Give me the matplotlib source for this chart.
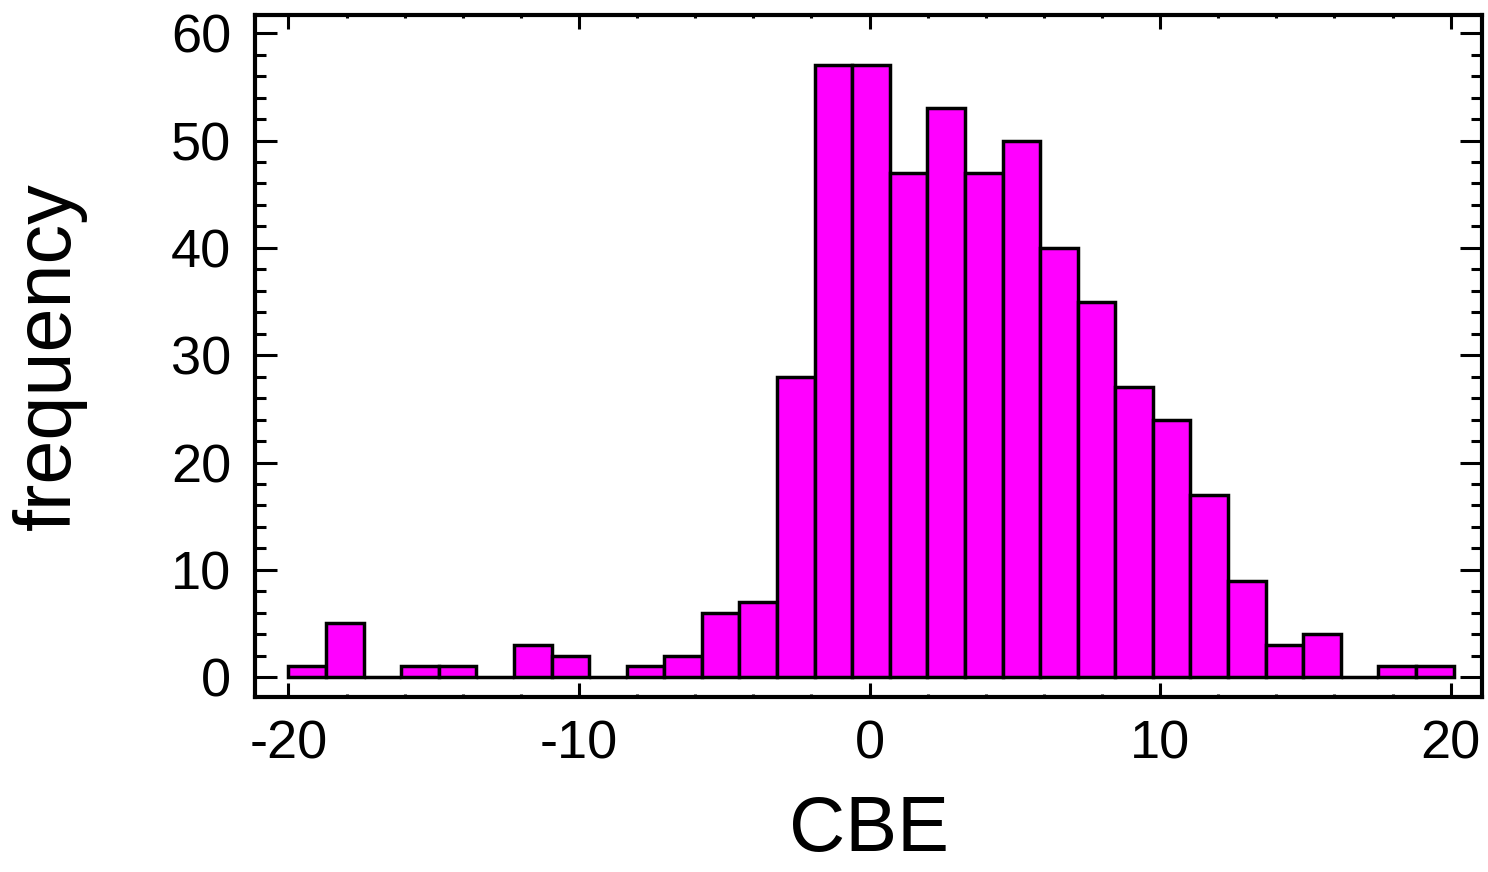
import numpy as np
import matplotlib
matplotlib.use("Agg")
import matplotlib.pyplot as plt
from matplotlib.ticker import MultipleLocator

# ---- data ----
bin_low = -20.0
bin_high = 20.1
n_bins = 31
counts = [1, 5, 0, 1, 1, 0, 3, 2, 0, 1, 2, 6, 7, 28, 57, 57, 47, 53, 47, 50,
          40, 35, 27, 24, 17, 9, 3, 4, 0, 1, 1]
x_ticks = [-20, -10, 0, 10, 20]
y_ticks = [0, 10, 20, 30, 40, 50, 60]
x_label = "CBE"
y_label = "frequency"

plt.rcParams['font.family'] = ['Liberation Sans', 'DejaVu Sans']
plt.rcParams['axes.unicode_minus'] = False

fig = plt.figure(figsize=(14.88, 8.72), dpi=100)
ax = fig.add_axes([0.1714, 0.2007, 0.9960 - 0.1714, 0.9828 - 0.2007])

edges = np.linspace(bin_low, bin_high, n_bins + 1)
centers = 0.5 * (edges[:-1] + edges[1:])
ax.hist(centers, bins=edges, weights=counts, color='#FF00FF',
        edgecolor='black', linewidth=2.5, zorder=2)

ax.set_xlim(-21.15, 21.08)
ax.set_ylim(-1.85, 61.7)
ax.set_xticks(x_ticks)
ax.set_yticks(y_ticks)
ax.xaxis.set_minor_locator(MultipleLocator(2))
ax.yaxis.set_minor_locator(MultipleLocator(2))

for s in ax.spines.values():
    s.set_linewidth(3)

ax.tick_params(axis='x', which='major', direction='in', length=10, width=2.2,
               top=True, bottom=True, labelsize=39, pad=16)
ax.tick_params(axis='x', which='minor', direction='in', length=2.5, width=2.2,
               top=True, bottom=True)
ax.tick_params(axis='y', which='major', direction='in', length=16, width=2.2,
               left=True, right=True, labelsize=39, pad=17)
ax.tick_params(axis='y', which='minor', direction='in', length=8, width=2.2,
               left=True, right=True)

ax.set_xlabel(x_label, fontsize=56)
ax.set_ylabel(y_label, fontsize=57)
ax.xaxis.set_label_coords(0.5, -0.142)
ax.yaxis.set_label_coords(-0.137, 0.5)

fig.savefig("out.png", dpi=100)
